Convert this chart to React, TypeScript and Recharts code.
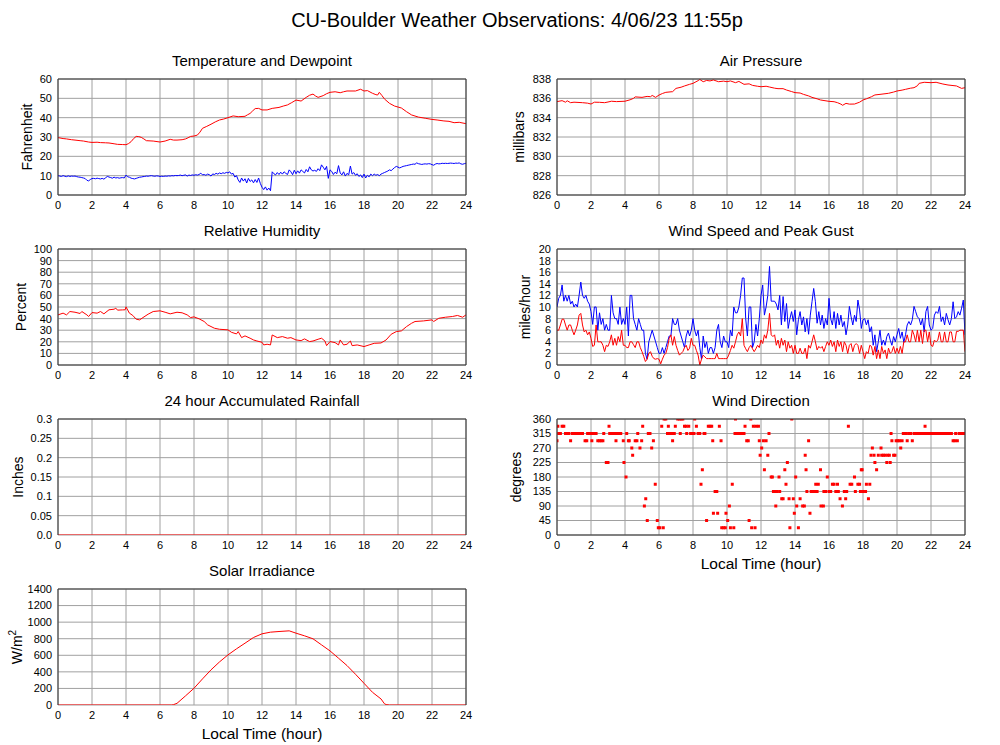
import React from "react";
import {
  LineChart,
  Line,
  ScatterChart,
  Scatter,
  XAxis,
  YAxis,
  CartesianGrid,
} from "recharts";

// ---- data ----
const hourTicks = [0, 2, 4, 6, 8, 10, 12, 14, 16, 18, 20, 22, 24];
const tempTicks = [0, 10, 20, 30, 40, 50, 60];
const pressTicks = [826, 828, 830, 832, 834, 836, 838];
const rhTicks = [0, 10, 20, 30, 40, 50, 60, 70, 80, 90, 100];
const windTicks = [0, 2, 4, 6, 8, 10, 12, 14, 16, 18, 20];
const rainTicks = [0, 0.05, 0.1, 0.15, 0.2, 0.25, 0.3];
const dirTicks = [0, 45, 90, 135, 180, 225, 270, 315, 360];
const solarTicks = [0, 200, 400, 600, 800, 1000, 1200, 1400];

// [hour, degF]
const temperature: [number, number][] = [
  [0, 29.7], [0.3, 29.2], [0.5, 29.0], [0.8, 28.6], [1, 28.4], [1.3, 28.1], [1.5, 27.9], [1.8, 27.4],
  [2, 27.2], [2.3, 27.3], [2.5, 27.1], [2.8, 27.0], [3, 26.9], [3.3, 26.5], [3.5, 26.2], [3.8, 26.1],
  [4, 26.0], [4.15, 26.6], [4.3, 27.6], [4.45, 29.2], [4.6, 30.3], [4.75, 30.2], [4.9, 29.8], [5.05, 29.0],
  [5.2, 28.1], [5.6, 27.9], [6, 27.4], [6.3, 27.9], [6.6, 28.8], [6.8, 28.4], [7, 28.4], [7.3, 28.6],
  [7.5, 29.0], [7.65, 29.6], [7.8, 30.3], [8.0, 30.5], [8.2, 31.0], [8.35, 32.5], [8.5, 34.5], [8.75, 35.5],
  [9, 36.6], [9.25, 37.8], [9.5, 38.8], [9.75, 39.3], [10, 40.0], [10.3, 40.9], [10.6, 40.5], [11, 40.7],
  [11.15, 41.5], [11.3, 42.2], [11.45, 43.5], [11.6, 44.7], [11.8, 44.8], [12, 44.0], [12.3, 44.0], [12.6, 44.8],
  [13, 45.3], [13.25, 46.0], [13.5, 46.6], [13.75, 47.8], [14, 49.1], [14.3, 48.6], [14.6, 50.5], [14.8, 51.6],
  [15, 52.2], [15.15, 51.2], [15.3, 50.5], [15.6, 51.4], [15.8, 52.4], [16, 53.1], [16.3, 53.4], [16.6, 52.9],
  [16.8, 53.4], [17, 53.8], [17.5, 53.8], [17.8, 54.7], [18, 53.8], [18.2, 54.0], [18.5, 52.6], [18.7, 51.9],
  [18.8, 51.7], [18.9, 53.1], [19.05, 51.5], [19.2, 49.7], [19.5, 47.4], [19.8, 46.0], [20.2, 45.0], [20.5, 43.1],
  [20.8, 41.4], [21.2, 40.3], [21.6, 39.7], [22, 39.1], [22.3, 38.8], [22.7, 38.3], [23, 38.1], [23.3, 37.4],
  [23.6, 37.6], [24, 36.9],
];

// one value every 0.1 hour, 0.0 .. 24.0
const dewpoint = [
  10.0, 9.8, 9.6, 10.0, 9.7, 9.5, 9.9, 9.6, 9.8, 9.7, 9.8,
  9.5, 9.3, 9.2, 9.0, 8.8, 8.5, 7.6, 7.3, 8.0, 8.5,
  8.6, 8.4, 8.7, 8.5, 8.3, 8.6, 8.2, 8.9, 9.6, 9.3,
  9.0, 8.7, 9.2, 8.8, 9.0, 8.7, 8.9, 9.0, 8.8, 10.3,
  9.4, 9.2, 8.7, 8.5, 8.3, 8.6, 8.9, 9.2, 9.3, 9.5,
  9.6, 9.8, 9.7, 9.9, 10.0, 9.8, 9.7, 9.9, 9.8, 9.6,
  9.7, 9.6, 9.8, 9.7, 9.9, 9.8, 10.0, 9.9, 10.1, 10.0,
  10.1, 10.3, 10.0, 10.2, 10.4, 9.8, 10.3, 10.1, 10.4, 10.2,
  10.5, 10.3, 10.6, 11.3, 10.4, 10.6, 10.2, 10.8, 10.5, 9.8,
  10.9, 10.6, 11.2, 10.8, 11.4, 11.0, 11.5, 11.2, 11.7, 11.4,
  12.0, 10.8, 11.2, 9.3, 10.0, 7.8, 6.5, 8.8, 7.2, 8.4,
  6.2, 8.6, 7.0, 7.8, 6.3, 8.0, 6.5, 8.8, 6.0, 4.0,
  2.8, 4.2, 2.5, 3.6, 2.2, 12.0, 11.0, 10.4, 11.6, 10.6,
  11.8, 10.8, 12.0, 11.2, 10.6, 13.0, 12.0, 10.5, 12.8, 11.0,
  12.5, 11.3, 13.0, 12.2, 11.4, 13.2, 12.0, 14.6, 13.0, 12.4,
  12.8, 12.2, 13.6, 12.6, 15.6, 14.4, 13.0, 14.8, 8.6, 13.0,
  12.2, 10.6, 11.8, 11.0, 15.2, 11.4, 10.4, 12.0, 9.8, 11.2,
  10.4, 15.0, 10.8, 11.6, 10.2, 11.0, 9.6, 10.4, 9.0, 10.8,
  8.8, 10.2, 9.4, 10.8, 10.0, 10.8, 10.2, 10.6, 10.0, 10.8,
  11.2, 11.6, 12.0, 12.4, 13.0, 12.6, 13.4, 14.2, 14.8, 14.4,
  14.0, 14.4, 14.8, 15.0, 15.2, 15.4, 15.6, 15.8, 16.0, 15.9,
  16.6, 16.2, 16.0, 15.8, 16.0, 16.1, 16.0, 16.2, 16.1, 15.7,
  15.4, 16.0, 16.3, 16.1, 16.2, 16.4, 16.3, 16.4, 16.3, 16.4,
  16.5, 16.4, 16.3, 16.5, 16.4, 16.6, 16.1, 15.9, 16.2, 16.4,
];

// [hour, mb]
const pressure: [number, number][] = [
  [0, 835.66], [0.3, 835.76], [0.5, 835.6], [0.6, 835.75], [0.8, 835.55], [1, 835.6], [1.5, 835.55], [1.8, 835.5],
  [2, 835.41], [2.2, 835.6], [2.5, 835.59], [2.8, 835.55], [3, 835.62], [3.2, 835.7], [3.5, 835.66], [4, 835.7],
  [4.3, 835.85], [4.5, 836.0], [4.6, 836.15], [5, 836.1], [5.3, 836.2], [5.5, 836.17], [5.6, 836.3], [5.8, 836.1],
  [6, 836.34], [6.2, 836.5], [6.4, 836.62], [6.8, 836.69], [7, 837.03], [7.3, 837.15], [7.5, 837.28], [7.8, 837.45],
  [8, 837.55], [8.3, 837.83], [8.4, 837.95], [8.6, 837.72], [8.8, 837.85], [9, 837.8], [9.2, 837.9], [9.5, 837.72],
  [9.8, 837.78], [10, 837.72], [10.2, 837.8], [10.5, 837.62], [10.7, 837.75], [11, 837.45], [11.3, 837.5], [11.5, 837.34],
  [11.8, 837.25], [12, 837.2], [12.3, 837.25], [12.5, 837.17], [12.8, 837.05], [13, 837.0], [13.3, 837.0], [13.5, 836.86],
  [13.8, 836.7], [14, 836.59], [14.3, 836.55], [14.5, 836.41], [14.8, 836.25], [15, 836.1], [15.3, 835.95], [15.5, 835.83],
  [16, 835.69], [16.3, 835.65], [16.5, 835.55], [16.7, 835.4], [16.8, 835.28], [17, 835.48], [17.2, 835.4], [17.5, 835.41],
  [17.8, 835.6], [18, 835.83], [18.2, 835.95], [18.5, 836.17], [18.7, 836.35], [19, 836.41], [19.5, 836.52], [19.8, 836.65],
  [20, 836.76], [20.3, 836.85], [20.5, 836.93], [20.8, 837.05], [21, 837.1], [21.2, 837.3], [21.3, 837.55], [21.6, 837.66],
  [22, 837.62], [22.3, 837.66], [22.7, 837.48], [23, 837.38], [23.5, 837.28], [23.8, 837.03], [24, 837.1],
];

// [hour, %]
const humidity: [number, number][] = [
  [0, 43.2], [0.3, 44.7], [0.5, 43.2], [0.7, 46.1], [1, 45.5], [1.3, 44.4], [1.4, 46.1], [1.7, 43.2],
  [1.8, 41.8], [2, 45.2], [2.3, 44.7], [2.5, 46.1], [2.7, 44.1], [3, 47.6], [3.3, 48.1], [3.4, 49],
  [3.5, 47.3], [3.8, 47.5], [3.95, 47.6], [4.0, 50.1], [4.2, 44.7], [4.4, 42.7], [4.6, 39.5], [4.8, 38.9],
  [5, 40.9], [5.3, 43.8], [5.6, 46.1], [6, 46.7], [6.3, 45.5], [6.6, 44.1], [7, 45.5], [7.3, 45],
  [7.6, 43.2], [7.8, 40.9], [8, 41.5], [8.3, 39.8], [8.6, 37.5], [8.8, 34.6], [9.2, 31.7], [9.5, 30.8],
  [10, 30.3], [10.2, 28.2], [10.5, 26.8], [10.6, 28.8], [10.8, 23.6], [11, 25.1], [11.3, 23.1], [11.5, 21.6],
  [11.7, 20.7], [12, 19.6], [12.1, 17.3], [12.3, 17.9], [12.5, 17.3], [12.6, 25.9], [12.9, 23.6], [13.2, 24.5],
  [13.5, 23.1], [13.7, 23.6], [14, 21.6], [14.3, 21], [14.5, 22.5], [14.8, 20.2], [15, 20.7], [15.3, 22.2],
  [15.5, 23.1], [15.7, 20.7], [15.8, 16.7], [16, 20.2], [16.3, 19.3], [16.5, 17.3], [16.6, 21.6], [16.8, 17.3],
  [17, 17.9], [17.2, 20.7], [17.3, 16.7], [17.6, 17.3], [18, 15.9], [18.3, 17.3], [18.6, 18.7], [19, 19],
  [19.3, 21.6], [19.6, 26.5], [19.9, 28.8], [20.2, 29.4], [20.5, 33.1], [20.8, 36], [21, 37.5], [21.5, 38],
  [22, 38.9], [22.1, 37.5], [22.4, 40.3], [22.8, 41.2], [23.2, 41.8], [23.5, 42.7], [23.8, 41.2], [24, 43.2],
];

// one value every 0.1 hour, 0.0 .. 24.0 (mph)
const peakGust = [
  10, 11.5, 12, 13.8, 11, 12, 11, 12, 10.5, 11,
  10, 10.5, 10, 12, 14.3, 12, 11.5, 12, 11, 10.5,
  9.2, 7, 10, 10, 6, 9, 7, 8, 6, 7,
  6, 6, 12, 9, 8, 8, 7, 10, 7, 8,
  7, 10, 5, 12, 12, 8, 7, 6, 8, 7,
  6, 6, 2, 1, 4, 5, 6, 5, 4, 3,
  2, 2, 3, 2, 3, 4, 5, 5, 8, 7,
  7, 8, 6, 5, 4, 3, 5, 6, 5, 6,
  8, 6, 5, 6, 3, 1, 5, 3, 4, 2,
  3, 3, 2, 3, 6, 7, 4, 3, 5, 4,
  4, 3, 6, 5, 10, 9, 9, 10, 12, 15,
  15, 8, 5, 10, 10, 3, 4, 7, 5, 8,
  12, 13.8, 8.6, 10, 12, 17, 11, 11, 11, 10.5,
  9.5, 12, 6.9, 11.8, 7.5, 10.6, 6.3, 8, 9.2, 7.5,
  9.5, 5.2, 7.8, 9.2, 6.9, 8.3, 5.7, 8, 5.3, 8.6,
  10.9, 13.2, 10.9, 7.2, 9.2, 6.9, 8.6, 6.3, 8, 6.9,
  11.5, 8, 6.9, 9.2, 6.3, 8.9, 6.9, 8.6, 6.6, 7.5,
  5.2, 6.9, 10.1, 8.3, 6.9, 8.6, 7.5, 11.2, 9.5, 6.3,
  7.8, 8, 6.9, 7.8, 5.7, 6.6, 3.4, 5.2, 2.3, 4,
  6, 3.4, 4.3, 3.4, 4.9, 5.5, 4.3, 3.4, 4.9, 4,
  5.2, 6.3, 4.6, 5.7, 3.9, 5.2, 6.9, 7.5, 6.9, 7.8,
  10.1, 9.2, 8.3, 8, 6.9, 8, 5.7, 9.2, 10.1, 6.9,
  6, 6.3, 8.6, 9.2, 8.9, 10.1, 7.5, 8.3, 6.9, 8.9,
  7.8, 6.9, 8, 10.9, 8, 8.3, 9.2, 8.6, 9.8, 11.2,
  5.2,
];

const windSpeed = [
  6, 6, 6.9, 7.9, 7.9, 6.9, 6, 6.9, 6.9, 6,
  5.2, 6, 6.9, 8.6, 8.9, 6.9, 5.7, 6, 5.2, 5.7,
  4.6, 3.2, 3.4, 6.9, 4, 4, 4, 3.4, 2.3, 3.4,
  3.2, 4, 5.2, 3.4, 4.6, 3.4, 4.9, 4, 6, 3.4,
  3.4, 3, 3, 4, 4, 3.5, 3, 4, 4, 3,
  2.3, 1.5, 0.6, 1, 2, 2.3, 1.5, 1.1, 1, 1.1,
  1, 0.2, 1, 1.7, 2, 3, 4.6, 5.2, 3.4, 4.9,
  3.4, 2.5, 1.7, 2, 2.3, 3, 3.4, 2.5, 2.9, 4.6,
  3.4, 3.4, 2.5, 1.7, 0, 1, 1.7, 1.4, 1.1, 1.1,
  1.1, 1.1, 1.1, 1.1, 2, 1.1, 1.1, 1.1, 1.1, 1.1,
  1.1, 1.7, 2.5, 3.4, 2.9, 4, 5.2, 5.7, 5, 8,
  3.4, 2.8, 2.3, 3, 3.4, 2.8, 2.3, 2.8, 3.4, 3,
  4.3, 3.7, 5.2, 4.6, 6, 8.9, 5.2, 4.9, 5.2, 3.4,
  4.3, 2.9, 4.6, 3.4, 4.3, 2.3, 4, 2.9, 3.4, 2,
  3.4, 2, 2, 2.9, 2, 2, 2.9, 1.1, 3.4, 2.9,
  4, 5.2, 4, 2.6, 3.2, 2.9, 3.2, 2.3, 3.2, 4,
  3.4, 4.3, 3.2, 4, 2.3, 4.3, 3.2, 4, 2.3, 4,
  3.4, 2, 3.4, 3.7, 2.3, 3.4, 3.7, 3.4, 2, 3.4,
  2.3, 1.1, 2.3, 2, 3.4, 3.2, 1.7, 3.2, 1.1, 2.6,
  1.1, 3.2, 2, 2.6, 1.1, 2.9, 2, 2.3, 3.2, 2,
  2.9, 2, 3.2, 2, 4, 4, 5.2, 4, 4, 6,
  5.2, 4, 6, 4, 6, 3.7, 6, 6, 4, 5.7,
  3.4, 3.2, 4.3, 4, 4.3, 5.7, 4, 4, 5.7, 4,
  4, 5.7, 5.7, 4, 4, 5.8, 5.8, 6, 6, 6,
  2.3,
];

// hourly accumulated rain (inches)
const rainfall = [0, 0, 0, 0, 0, 0, 0, 0, 0, 0, 0, 0, 0, 0, 0, 0, 0, 0, 0, 0, 0, 0, 0, 0, 0];

// [hour, degrees]
const windDir: [number, number][] = [
  [0.0, 292.5], [0.05, 337.5], [0.1, 315], [0.15, 315], [0.2, 315], [0.3, 337.5], [0.4, 337.5], [0.5, 315],
  [0.6, 315], [0.7, 315], [0.8, 292.5], [0.9, 315], [1.0, 315], [1.1, 315], [1.2, 315], [1.3, 315],
  [1.4, 315], [1.5, 315], [1.65, 292.5], [1.75, 292.5], [1.8, 315], [1.9, 315], [2.0, 315], [2.05, 292.5],
  [2.1, 315], [2.2, 315], [2.3, 315], [2.4, 292.5], [2.5, 292.5], [2.6, 292.5], [2.7, 292.5], [2.75, 315],
  [2.9, 225], [3.0, 225], [3.06, 337.5], [3.1, 315], [3.2, 315], [3.3, 315], [3.4, 315], [3.47, 292.5],
  [3.55, 315], [3.65, 315], [3.75, 315], [3.9, 292.5], [3.94, 225], [4.06, 180], [4.1, 315], [4.2, 292.5],
  [4.25, 292.5], [4.4, 270], [4.45, 247.5], [4.6, 292.5], [4.7, 292.5], [4.75, 315], [4.88, 270], [4.98, 292.5],
  [5.04, 337.5], [5.14, 90], [5.22, 112.5], [5.31, 45], [5.37, 315], [5.47, 315], [5.57, 270], [5.67, 292.5],
  [5.78, 157.5], [5.9, 45], [5.96, 22.5], [6.05, 22.5], [6.16, 337.5], [6.25, 22.5], [6.3, 360], [6.4, 360],
  [6.5, 315], [6.55, 337.5], [6.65, 315], [6.75, 315], [6.8, 292.5], [6.9, 315], [6.96, 337.5], [7.1, 360],
  [7.2, 360], [7.25, 315], [7.3, 360], [7.4, 360], [7.5, 337.5], [7.6, 337.5], [7.63, 315], [7.75, 337.5],
  [7.86, 315], [7.95, 315], [8.06, 315], [8.1, 360], [8.2, 337.5], [8.3, 315], [8.4, 315], [8.47, 157.5],
  [8.55, 202.5], [8.65, 315], [8.7, 315], [8.8, 45], [8.9, 337.5], [9.0, 337.5], [9.1, 337.5], [9.16, 292.5],
  [9.2, 67.5], [9.3, 135], [9.4, 135], [9.45, 67.5], [9.55, 337.5], [9.65, 292.5], [9.69, 22.5], [9.8, 22.5],
  [9.9, 22.5], [9.94, 67.5], [10.04, 45], [10.14, 90], [10.2, 22.5], [10.31, 157.5], [10.4, 22.5], [10.47, 315],
  [10.5, 360], [10.6, 315], [10.7, 315], [10.8, 315], [10.9, 315], [11.0, 315], [11.06, 337.5], [11.16, 292.5],
  [11.25, 292.5], [11.3, 45], [11.4, 360], [11.45, 22.5], [11.55, 337.5], [11.65, 22.5], [11.7, 337.5], [11.85, 337.5],
  [11.9, 292.5], [11.95, 247.5], [12.04, 270], [12.14, 292.5], [12.2, 202.5], [12.3, 292.5], [12.4, 247.5], [12.47, 315],
  [12.6, 180], [12.67, 180], [12.73, 135], [12.8, 135], [12.87, 90], [12.95, 135], [13.06, 180], [13.1, 135],
  [13.22, 112.5], [13.3, 112.5], [13.4, 202.5], [13.47, 157.5], [13.55, 225], [13.65, 112.5], [13.7, 22.5], [13.81, 360],
  [13.9, 112.5], [13.96, 67.5], [14.04, 180], [14.1, 90], [14.2, 22.5], [14.3, 112.5], [14.45, 90], [14.55, 90],
  [14.6, 247.5], [14.65, 202.5], [14.7, 135], [14.8, 292.5], [14.88, 67.5], [14.95, 135], [15.05, 135], [15.15, 135],
  [15.22, 157.5], [15.3, 135], [15.37, 157.5], [15.5, 202.5], [15.53, 90], [15.67, 90], [15.7, 135], [15.8, 135],
  [15.9, 180], [16.0, 135], [16.1, 135], [16.2, 157.5], [16.3, 157.5], [16.4, 135], [16.5, 157.5], [16.55, 135],
  [16.65, 112.5], [16.79, 90], [16.9, 135], [16.98, 112.5], [17.04, 135], [17.14, 337.5], [17.24, 157.5], [17.34, 157.5],
  [17.5, 180], [17.55, 135], [17.7, 157.5], [17.8, 157.5], [17.85, 135], [17.9, 202.5], [17.95, 202.5], [18.0, 135],
  [18.15, 135], [18.2, 157.5], [18.32, 112.5], [18.4, 157.5], [18.47, 247.5], [18.55, 270], [18.65, 247.5], [18.7, 225],
  [18.8, 202.5], [18.9, 247.5], [19.06, 270], [19.1, 247.5], [19.2, 247.5], [19.3, 247.5], [19.4, 225], [19.45, 247.5],
  [19.55, 247.5], [19.6, 225], [19.65, 315], [19.7, 292.5], [19.8, 247.5], [19.88, 247.5], [19.95, 292.5], [20.05, 292.5],
  [20.15, 292.5], [20.22, 270], [20.3, 292.5], [20.37, 315], [20.45, 315], [20.55, 315], [20.6, 292.5], [20.7, 315],
  [20.8, 315], [20.9, 292.5], [21.0, 315], [21.1, 315], [21.2, 315], [21.3, 315], [21.4, 315], [21.5, 315],
  [21.6, 315], [21.65, 337.5], [21.7, 315], [21.8, 315], [21.9, 315], [22.0, 315], [22.1, 315], [22.2, 315],
  [22.3, 315], [22.4, 315], [22.5, 315], [22.6, 315], [22.7, 315], [22.8, 315], [22.9, 315], [23.0, 315],
  [23.1, 315], [23.2, 315], [23.3, 292.5], [23.4, 292.5], [23.45, 315], [23.55, 292.5], [23.65, 315], [23.75, 315],
  [23.85, 315], [23.95, 315], [24.0, 315],
];

// [hour, W/m2]
const solar: [number, number][] = [
  [0, 0], [6.7, 0], [6.8, 5], [7.0, 20], [7.5, 110], [8, 202], [8.5, 315], [9, 424],
  [9.5, 520], [10, 605], [10.5, 678], [11, 746], [11.5, 815], [12, 859], [12.5, 879], [13, 887],
  [13.6, 895], [14, 867], [14.5, 835], [15, 799], [15.5, 726], [16, 653], [16.5, 565], [17, 476],
  [17.5, 371], [18, 262], [18.5, 153], [19, 73], [19.2, 16], [19.3, 5], [19.5, 0], [24, 0],
];

// ---- build recharts rows ----
const pairs = (a: [number, number][]) => a.map(([t, v]) => ({ t, v }));
const tenths = (a: number[]) => a.map((v, i) => ({ t: i / 10, v }));

const tempData = pairs(temperature);
const dewData = tenths(dewpoint);
const pressData = pairs(pressure);
const rhData = pairs(humidity);
const gustData = tenths(peakGust);
const speedData = tenths(windSpeed);
const rainData = rainfall.map((v, i) => ({ t: i, v }));
const dirData = windDir.map(([t, d]) => ({ t, d }));
const solarData = pairs(solar);

// ---- layout ----
const FONT = '"Liberation Sans", Arial, Helvetica, sans-serif';
const RED = "#ff0000";
const BLUE = "#0000ff";
const PLOT_H = 116;
const M_TOP = 10;
const X_H = 30;
const CH = M_TOP + PLOT_H + X_H;
const ROWS = [79, 249, 419, 589];
const LCOL = { x: 0, w: 480, yw: 58, mr: 14 };
const RCOL = { x: 490, w: 490, yw: 67, mr: 15 };

const tickStyle = { fill: "#000", fontSize: 11, fontFamily: FONT };

const xAxis = (
  <XAxis
    type="number"
    dataKey="t"
    domain={[0, 24]}
    ticks={hourTicks}
    interval={0}
    tickLine={false}
    axisLine={false}
    tickSize={4}
    tickMargin={2}
    tick={tickStyle}
    height={X_H}
    allowDataOverflow
  />
);

const yAxis = (w: number, domain: [number, number], ticks: number[], key = "v", fmt?: (v: number) => string) => (
  <YAxis
    type="number"
    dataKey={key}
    domain={domain}
    ticks={ticks}
    interval={0}
    tickLine={false}
    axisLine={false}
    tickSize={4}
    tickMargin={2}
    tick={tickStyle}
    width={w}
    tickFormatter={fmt}
    allowDataOverflow
  />
);

const grid = <CartesianGrid stroke="#a0a0a0" />;

const line = (data: { t: number; v: number }[], color: string) => (
  <Line
    data={data}
    dataKey="v"
    type="linear"
    stroke={color}
    strokeWidth={1}
    dot={false}
    activeDot={false}
    isAnimationActive={false}
  />
);

const box = (col: typeof LCOL, row: number): React.CSSProperties => ({
  position: "absolute",
  left: col.x,
  top: ROWS[row] - M_TOP,
});

const margin = (col: typeof LCOL) => ({ top: M_TOP, right: col.mr, bottom: 0, left: 0 });

const Square = (p: any) => <rect x={p.cx - 1.5} y={p.cy - 1.5} width={3} height={3} fill={RED} />;

// plot frame; openBottom leaves the lower edge to a red zero line
const plotFrame = (col: typeof LCOL, row: number, openBottom = false) => {
  const x0 = col.x + col.yw;
  const x1 = col.w + col.x - col.mr;
  const y0 = ROWS[row];
  const y1 = y0 + PLOT_H;
  const d = openBottom
    ? `M${x0},${y1} L${x0},${y0} L${x1},${y0} L${x1},${y1}`
    : `M${x0},${y1} L${x0},${y0} L${x1},${y0} L${x1},${y1} Z`;
  return <path key={`${col.x}-${row}`} d={d} fill="none" stroke="#333" strokeWidth={1} />;
};

const lcx = LCOL.x + LCOL.yw + (LCOL.w - LCOL.yw - LCOL.mr) / 2;
const rcx = RCOL.x + RCOL.yw + (RCOL.w - RCOL.yw - RCOL.mr) / 2;
const mid = (row: number) => ROWS[row] + PLOT_H / 2;

const VLabel = ({ x, y, children }: { x: number; y: number; children: React.ReactNode }) => (
  <text x={x} y={y} transform={`rotate(-90 ${x} ${y})`} textAnchor="middle" fontSize={14} fontFamily={FONT} fill="#000">
    {children}
  </text>
);

const Title = ({ x, y, size = 15, children }: { x: number; y: number; size?: number; children: React.ReactNode }) => (
  <text x={x} y={y} textAnchor="middle" fontSize={size} fontFamily={FONT} fill="#000">
    {children}
  </text>
);

export default function App() {
  return (
    <div style={{ position: "absolute", left: 0, top: 0, width: 1000, height: 745, background: "#fff" }}>
      <div style={box(LCOL, 0)}>
        <LineChart width={LCOL.w} height={CH} margin={margin(LCOL)}>
          {grid}
          {xAxis}
          {yAxis(LCOL.yw, [0, 60], tempTicks)}
          {line(tempData, RED)}
          {line(dewData, BLUE)}
        </LineChart>
      </div>
      <div style={box(RCOL, 0)}>
        <LineChart width={RCOL.w} height={CH} margin={margin(RCOL)}>
          {grid}
          {xAxis}
          {yAxis(RCOL.yw, [826, 838], pressTicks)}
          {line(pressData, RED)}
        </LineChart>
      </div>
      <div style={box(LCOL, 1)}>
        <LineChart width={LCOL.w} height={CH} margin={margin(LCOL)}>
          {grid}
          {xAxis}
          {yAxis(LCOL.yw, [0, 100], rhTicks)}
          {line(rhData, RED)}
        </LineChart>
      </div>
      <div style={box(RCOL, 1)}>
        <LineChart width={RCOL.w} height={CH} margin={margin(RCOL)}>
          {grid}
          {xAxis}
          {yAxis(RCOL.yw, [0, 20], windTicks)}
          {line(gustData, BLUE)}
          {line(speedData, RED)}
        </LineChart>
      </div>
      <div style={box(LCOL, 2)}>
        <LineChart width={LCOL.w} height={CH} margin={margin(LCOL)}>
          {grid}
          {xAxis}
          {yAxis(LCOL.yw, [0, 0.3], rainTicks, "v", (v: number) => (v === 0 ? "0.0" : String(v)))}
          {line(rainData, RED)}
        </LineChart>
      </div>
      <div style={box(RCOL, 2)}>
        <ScatterChart width={RCOL.w} height={CH} margin={margin(RCOL)}>
          {grid}
          {xAxis}
          {yAxis(RCOL.yw, [0, 360], dirTicks, "d")}
          <Scatter data={dirData} fill={RED} shape={Square} isAnimationActive={false} />
        </ScatterChart>
      </div>
      <div style={box(LCOL, 3)}>
        <LineChart width={LCOL.w} height={CH} margin={margin(LCOL)}>
          {grid}
          {xAxis}
          {yAxis(LCOL.yw, [0, 1400], solarTicks)}
          {line(solarData, RED)}
        </LineChart>
      </div>

      <svg width={1000} height={745} style={{ position: "absolute", left: 0, top: 0, pointerEvents: "none" }}>
        <Title x={517} y={27} size={20}>
          CU-Boulder Weather Observations: 4/06/23 11:55p
        </Title>

        <Title x={lcx} y={66}>Temperature and Dewpoint</Title>
        <Title x={rcx} y={66}>Air Pressure</Title>
        <Title x={lcx} y={236}>Relative Humidity</Title>
        <Title x={rcx} y={236}>Wind Speed and Peak Gust</Title>
        <Title x={lcx} y={406}>24 hour Accumulated Rainfall</Title>
        <Title x={rcx} y={406}>Wind Direction</Title>
        <Title x={lcx} y={576}>Solar Irradiance</Title>

        <VLabel x={32} y={mid(0)}>Fahrenheit</VLabel>
        <VLabel x={524} y={mid(0)}>millibars</VLabel>
        <VLabel x={26} y={mid(1)}>Percent</VLabel>
        <VLabel x={530} y={mid(1)}>miles/hour</VLabel>
        <VLabel x={23} y={mid(2)}>Inches</VLabel>
        <VLabel x={521} y={mid(2)}>degrees</VLabel>
        <VLabel x={22} y={mid(3)}>
          W/m
          <tspan dy={-6} fontSize={10}>2</tspan>
        </VLabel>

        <Title x={lcx} y={739} size={15.5}>Local Time (hour)</Title>
        <Title x={rcx} y={569} size={15.5}>Local Time (hour)</Title>

        {plotFrame(LCOL, 0)}
        {plotFrame(LCOL, 1)}
        {plotFrame(LCOL, 2, true)}
        {plotFrame(LCOL, 3, true)}
        {plotFrame(RCOL, 0)}
        {plotFrame(RCOL, 1)}
        {plotFrame(RCOL, 2)}
      </svg>
    </div>
  );
}
